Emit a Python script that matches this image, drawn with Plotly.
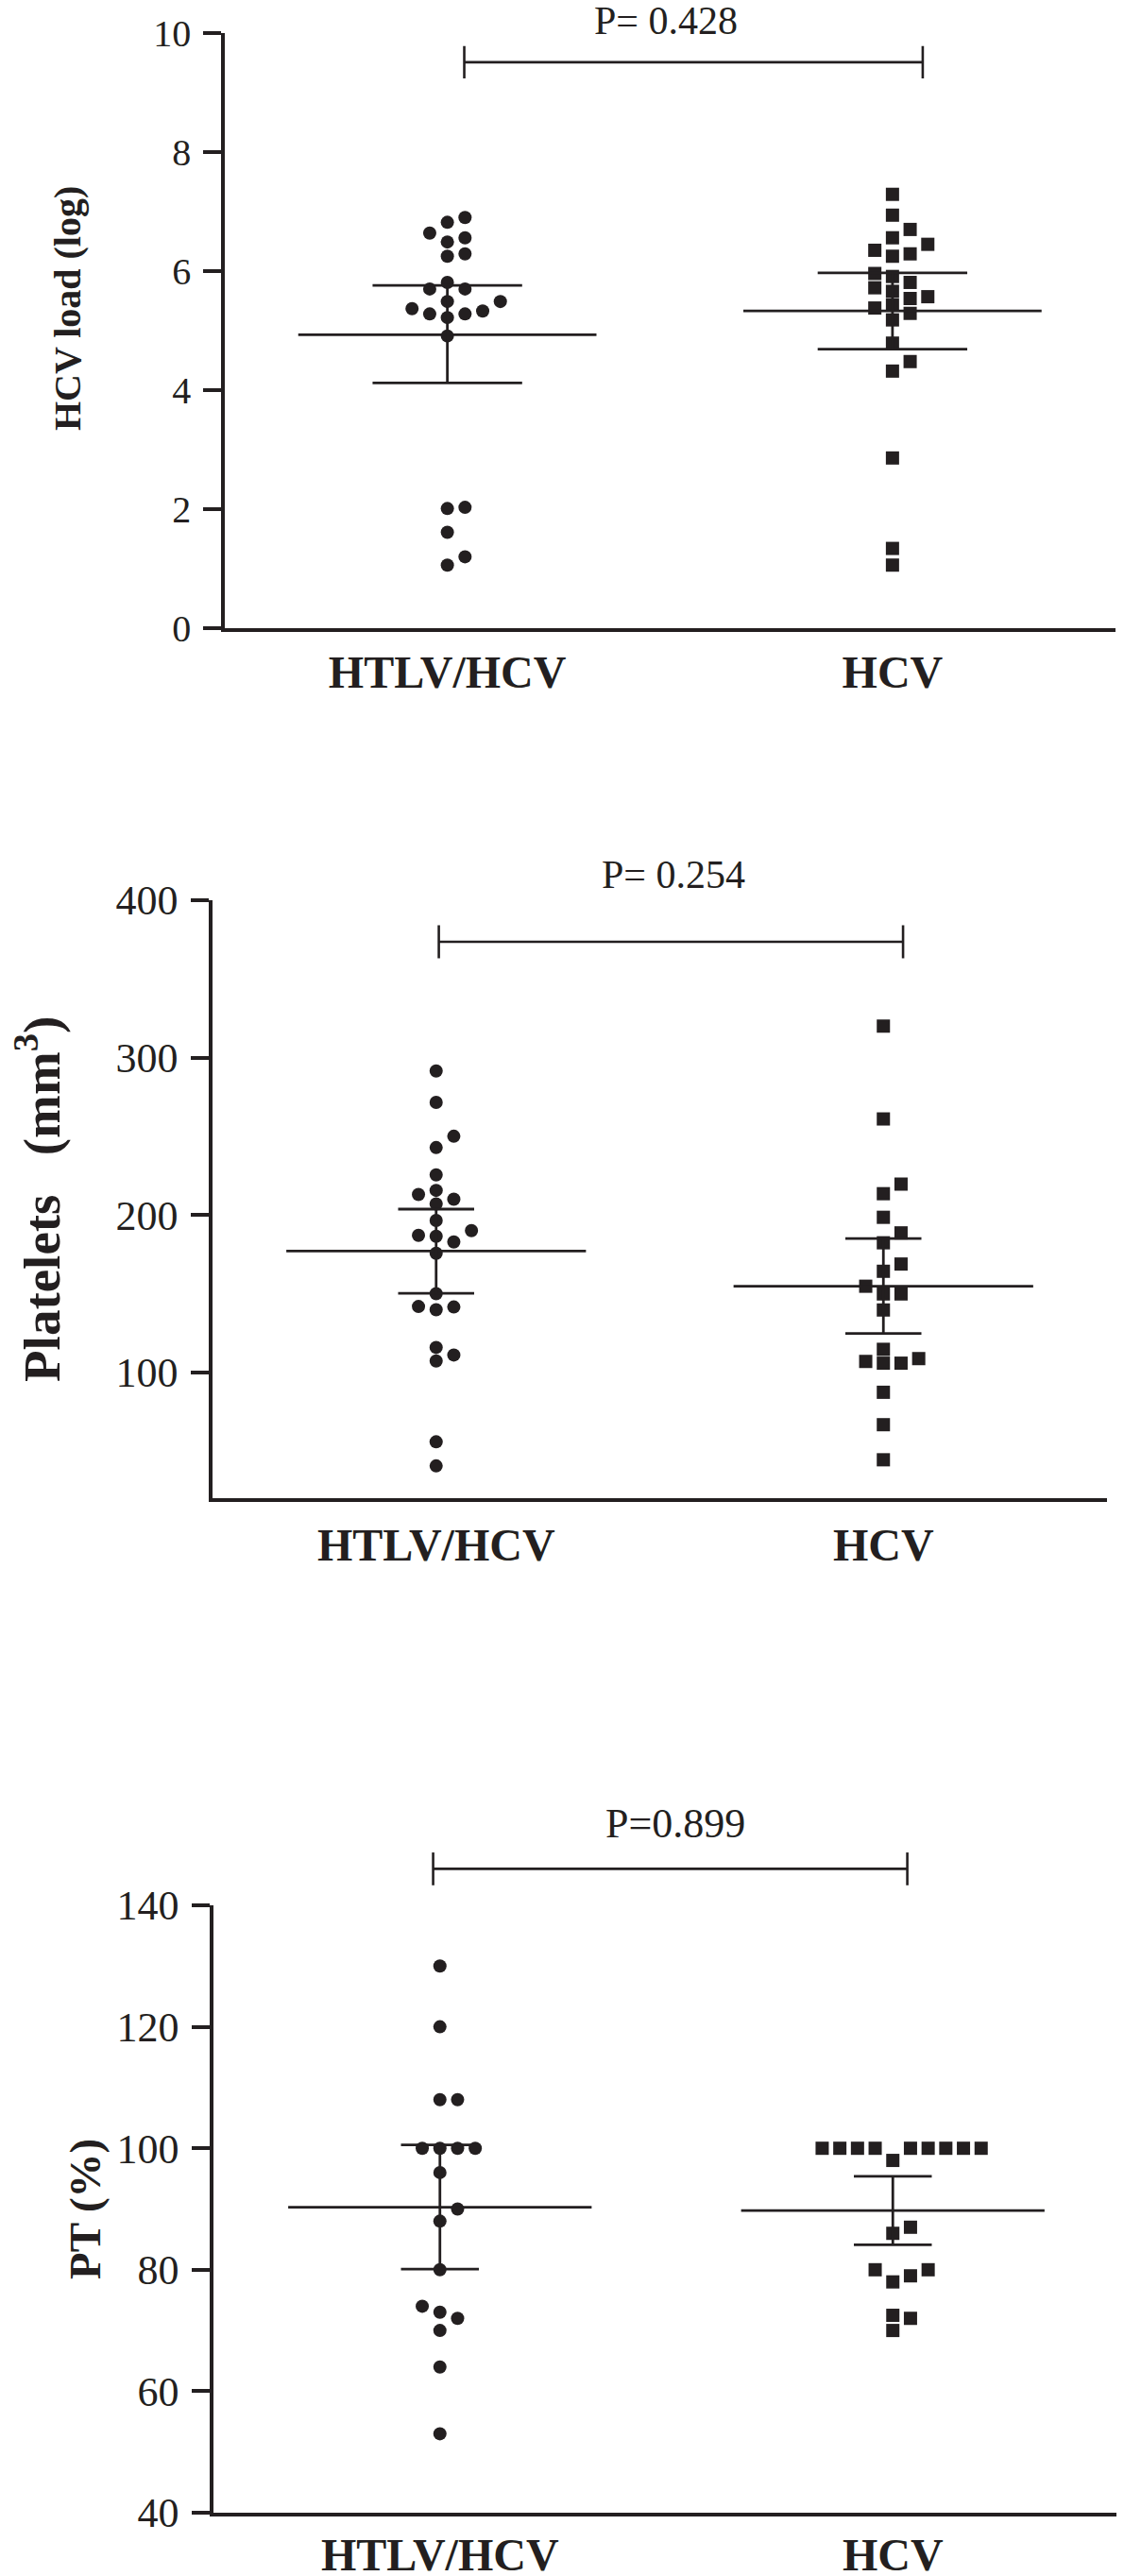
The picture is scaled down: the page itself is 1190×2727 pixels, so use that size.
import plotly.graph_objects as go

PAGE_W, PAGE_H = 1190, 2727
OFF = 8                      # default page margin around the figure div
W, H = PAGE_W - OFF, PAGE_H - OFF
groups = ["HTLV/HCV", "HCV"]

# ---------------- data ----------------
hcv_load_htlv = [6.90, 6.82, 6.64, 6.49, 6.56, 6.25, 6.29, 5.81, 5.70, 5.70, 5.49, 5.49,
                 5.33, 5.22, 5.28, 5.28, 5.37, 4.91, 2.01, 2.03, 1.61, 1.20, 1.06]
hcv_load_hcv = [7.29, 6.94, 6.70, 6.56, 6.45, 6.35, 6.29, 6.25, 5.96, 5.91, 5.81, 5.72,
                5.66, 5.57, 5.54, 5.43, 5.38, 5.29, 5.18, 4.79, 4.48, 4.32, 2.86, 1.34, 1.06]
platelets_htlv = [291.5, 271.5, 250, 242.8, 225.5, 213, 210, 215.6, 207, 196.5, 190, 186.4,
                  182.8, 187, 175.6, 150, 141.5, 139.8, 141.8, 115.8, 111, 107.2, 55.8, 40.5]
platelets_hcv = [320, 261, 219.6, 213.5, 198.5, 188.6, 182.3, 168.8, 164.2, 154.7, 149.8,
                 149.8, 139.6, 114.6, 108.7, 105.8, 105.8, 106.9, 87.3, 66.7, 44.4]
pt_htlv = [130, 120, 108, 108, 100, 100, 100, 100, 96, 90, 88, 80, 73, 74, 72, 70, 64, 53]
pt_hcv = [100, 100, 100, 100, 100, 100, 100, 100, 100, 98, 87, 86, 80, 79, 78, 80, 72.5, 72, 70]

# mean and SEM limits (lower, upper)
hcv_load_mean = [4.93, 5.33]
hcv_load_lo = [4.12, 4.69]
hcv_load_hi = [5.76, 5.97]
platelets_mean = [177.0, 154.7]
platelets_lo = [150.2, 124.7]
platelets_hi = [203.7, 185.0]
pt_mean = [90.3, 89.75]
pt_lo = [80.1, 84.1]
pt_hi = [100.55, 95.4]

p_labels = ["P= 0.428", "P= 0.254", "P=0.899"]
y_titles = ["HCV load (log)", "Platelets\u00a0\u00a0\u00a0(mm<sup>3</sup>)", "PT (%)"]

y_ranges = [[0, 10], [20, 400], [40, 140]]
y_ticks = [[0, 2, 4, 6, 8, 10], [100, 200, 300, 400], [40, 60, 80, 100, 120, 140]]
bracket_y = [9.51, 373.6, 146.0]

# ---------------- layout in page pixels ----------------
panels = [
    dict(x0=238, x1=1180.5, ytop=35, ybot=665, tickfs=40, titlefs=40, title_x=72, title_y=327,
         capw=0.168, bx=[0.038, 1.068], btick=0.27, p_x=0.49, p_y=22, p_fs=42, xlen=2),
    dict(x0=225, x1=1172, ytop=953, ybot=1586, tickfs=44, titlefs=55, title_x=40, title_y=1270,
         capw=0.085, bx=[0.006, 1.044], btick=10.5, p_x=0.53, p_y=926, p_fs=42, xlen=5),
    dict(x0=226, x1=1185, ytop=2017, ybot=2660, tickfs=44, titlefs=47, title_x=90, title_y=2339,
         capw=0.086, bx=[-0.015, 1.032], btick=2.7, p_x=0.52, p_y=1930, p_fs=44, xlen=0),
]

data = [(hcv_load_htlv, hcv_load_hcv), (platelets_htlv, platelets_hcv), (pt_htlv, pt_hcv)]
stats = [(hcv_load_mean, hcv_load_lo, hcv_load_hi),
         (platelets_mean, platelets_lo, platelets_hi),
         (pt_mean, pt_lo, pt_hi)]

INK = "#231f20"
FONT = "Liberation Serif"
XR = [-0.5, 1.5]
STEP_PX = 18.7
MSIZE = 14


def fx(px):
    return (px - OFF) / W


def fy(px):
    return 1 - (px - OFF) / H


def swarm(values, px_per_val, px_per_x):
    """Simple column beeswarm: offsets (in x data units) so markers don't overlap."""
    order = sorted(range(len(values)), key=lambda i: values[i])
    placed = []
    offs = [0.0] * len(values)
    cands = [0]
    for m in range(1, 30):
        cands += [m, -m]
    for i in order:
        y = values[i] * px_per_val
        for c in cands:
            if all(not (pc == c and abs(py - y) < MSIZE) for pc, py in placed):
                break
        placed.append((c, y))
        offs[i] = c * STEP_PX / px_per_x
    return offs


fig = go.Figure()
shapes = []
annotations = []

for k, (pan, (ga, gb), (mean, lo, hi)) in enumerate(zip(panels, data, stats)):
    n = "" if k == 0 else str(k + 1)
    xa, ya = "x" + n, "y" + n
    px_per_x = (pan["x1"] - pan["x0"]) / (XR[1] - XR[0])
    yr = y_ranges[k]
    px_per_val = (pan["ybot"] - pan["ytop"]) / (yr[1] - yr[0])

    for g, (vals, sym) in enumerate([(ga, "circle"), (gb, "square")]):
        offs = swarm(vals, px_per_val, px_per_x)
        fig.add_trace(go.Scatter(
            x=[g + o for o in offs], y=vals, mode="markers", xaxis=xa, yaxis=ya,
            marker=dict(symbol=sym, size=MSIZE, color=INK, line=dict(width=0)),
            hoverinfo="skip", cliponaxis=False))

    # mean and SEM
    lx, ly = [], []
    hw, cw = 0.335, pan["capw"]
    for g in range(2):
        lx += [g - hw, g + hw, None, g - cw, g + cw, None, g - cw, g + cw, None, g, g, None]
        ly += [mean[g], mean[g], None, hi[g], hi[g], None, lo[g], lo[g], None, lo[g], hi[g], None]
    fig.add_trace(go.Scatter(x=lx, y=ly, mode="lines", xaxis=xa, yaxis=ya,
                             line=dict(color=INK, width=2.8), hoverinfo="skip"))

    # significance bracket (y in axis-domain fraction so it can sit above the range)
    def dom(v):
        return (v - yr[0]) / (yr[1] - yr[0])
    by = bracket_y[k]
    bt = pan["btick"]
    bx0, bx1 = pan["bx"]
    for (xs0, ys0, xs1, ys1) in [(bx0, by, bx1, by), (bx0, by - bt, bx0, by + bt),
                                  (bx1, by - bt, bx1, by + bt)]:
        shapes.append(dict(type="line", xref=xa, yref=ya + " domain",
                           x0=xs0, x1=xs1, y0=dom(ys0), y1=dom(ys1),
                           line=dict(color=INK, width=2.6)))

    annotations.append(dict(text=p_labels[k], xref=xa, yref="paper", x=pan["p_x"],
                            y=fy(pan["p_y"]), xanchor="center", yanchor="middle",
                            showarrow=False, font=dict(family=FONT, size=pan["p_fs"], color=INK)))
    annotations.append(dict(text=y_titles[k], xref="paper", yref="paper",
                            x=fx(pan["title_x"]), y=fy(pan["title_y"]),
                            xanchor="center", yanchor="middle", textangle=-90, showarrow=False,
                            font=dict(family=FONT, size=pan["titlefs"], color=INK, weight="bold")))

    xdom = [fx(pan["x0"]), min(1.0, fx(pan["x1"]))]
    ydom = [fy(pan["ybot"]), fy(pan["ytop"])]
    fig.layout["xaxis" + n] = dict(
        domain=xdom, range=XR, anchor=ya, showgrid=False, zeroline=False, automargin=False,
        showline=True, linewidth=3.5, linecolor=INK,
        tickmode="array", tickvals=[0, 1], ticktext=groups,
        ticks="outside", ticklen=max(pan["xlen"], 0.1), tickcolor="rgba(0,0,0,0)",
        tickfont=dict(family=FONT, size=48, color=INK, weight="bold"))
    fig.layout["yaxis" + n] = dict(
        domain=ydom, range=yr, anchor=xa, showgrid=False, zeroline=False, automargin=False,
        showline=True, linewidth=3.5, linecolor=INK,
        tickmode="array", tickvals=y_ticks[k],
        ticks="outside", ticklen=19, tickwidth=3.5, tickcolor=INK,
        ticklabelstandoff=5,
        tickfont=dict(family=FONT, size=pan["tickfs"], color=INK))

fig.update_layout(template="none", width=W, height=H, margin=dict(l=0, r=0, t=0, b=0, pad=0),
                  paper_bgcolor="white", plot_bgcolor="white", showlegend=False,
                  shapes=shapes, annotations=annotations)

fig.write_html("out.html")
